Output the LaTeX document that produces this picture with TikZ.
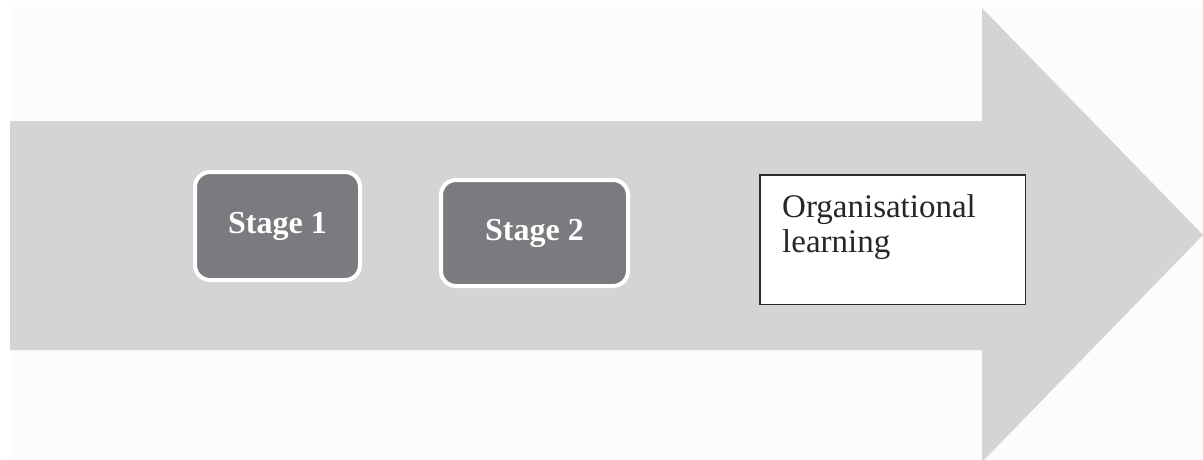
\documentclass[tikz,border=0pt]{standalone}
\usepackage{fontspec}
\setmainfont{Liberation Serif}
\usetikzlibrary{calc}
\definecolor{bgpale}{HTML}{FCFCFC}
\definecolor{arrowgray}{HTML}{D3D4D6}
\definecolor{stagegray}{HTML}{7A7B7F}
\definecolor{boxline}{HTML}{2B2B2B}
\tikzset{
  x=1pt, y=1pt,
  stagebox/.style={draw=white, line width=4pt, fill=stagegray, rounded corners=15pt,
    text=white, font=\fontsize{32}{36}\selectfont\bfseries, inner sep=0pt},
  orgbox/.style={draw=boxline, line width=1.5pt, fill=white, inner sep=0pt},
  orgtext/.style={font=\fontsize{33}{35}\selectfont, text=black!85, align=left, inner sep=0pt}
}
\begin{document}
\begin{tikzpicture}
\useasboundingbox (0,0) rectangle (1203,459);
\clip (0,0) rectangle (1203,459);
\fill[white] (0,0) rectangle (1203,459);
\fill[bgpale] (10,0) rectangle (1203,452);
% big arrow
\fill[arrowgray] (10,109) -- (982,109) -- (982,-3) -- (1203,224) -- (982,451) -- (982,338) -- (10,338) -- cycle;
% stages
\node[stagebox, minimum width=165pt, minimum height=108pt] (s1) at (277.5,233) {Stage 1};
\node[stagebox, minimum width=187pt, minimum height=106pt] (s2) at (534.5,226) {Stage 2};
% organisational learning
\node[orgbox, minimum width=265.5pt, minimum height=129.5pt] (org) at (892.5,219.5) {};
\node[orgtext, anchor=north west] (orgt) at ($(org.north west)+(23,-20)$) {Organisational\\learning};
\end{tikzpicture}
\end{document}
